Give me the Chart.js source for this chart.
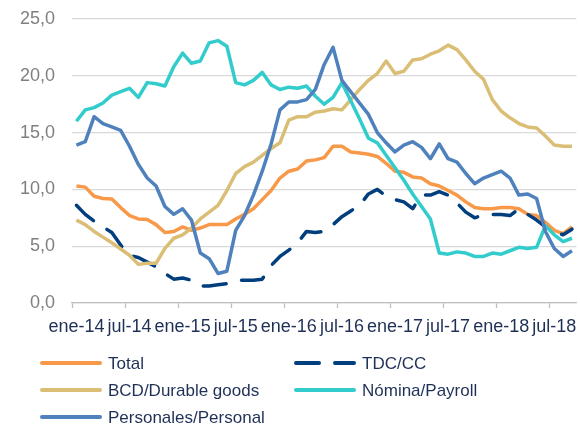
<!DOCTYPE html>
<html>
<head>
<meta charset="utf-8">
<script src="https://cdn.jsdelivr.net/npm/chart.js@4.4.0/dist/chart.umd.min.js"></script>
<style>
  html, body { margin: 0; padding: 0; background: #fff; }
  #wrap { width: 580px; height: 425px; }
</style>
</head>
<body>
<div id="wrap"><canvas id="chart" width="580" height="425"></canvas></div>
<script>
// monthly categories, ene-14 .. sep-18
const months = [
  "ene-14", "feb-14", "mar-14", "abr-14", "may-14", "jun-14", "jul-14", "ago-14", "sep-14", "oct-14", "nov-14", "dic-14",
  "ene-15", "feb-15", "mar-15", "abr-15", "may-15", "jun-15", "jul-15", "ago-15", "sep-15", "oct-15", "nov-15", "dic-15",
  "ene-16", "feb-16", "mar-16", "abr-16", "may-16", "jun-16", "jul-16", "ago-16", "sep-16", "oct-16", "nov-16", "dic-16",
  "ene-17", "feb-17", "mar-17", "abr-17", "may-17", "jun-17", "jul-17", "ago-17", "sep-17", "oct-17", "nov-17", "dic-17",
  "ene-18", "feb-18", "mar-18", "abr-18", "may-18", "jun-18", "jul-18", "ago-18", "sep-18",
];
const labelEvery = 6;

const total = [
  10.3, 10.2, 9.4, 9.2, 9.15, 8.4, 7.7, 7.4, 7.35, 6.9, 6.2, 6.3,
  6.7, 6.4, 6.6, 6.9, 6.9, 6.9, 7.4, 7.8, 8.3, 9.1, 9.9, 11.0,
  11.6, 11.8, 12.5, 12.6, 12.8, 13.8, 13.8, 13.3, 13.2, 13.1, 12.9, 12.3,
  11.6, 11.5, 11.1, 11.0, 10.5, 10.3, 9.9, 9.5, 8.9, 8.4, 8.3, 8.3,
  8.4, 8.4, 8.3, 7.8, 7.7, 7.1, 6.4, 6.1, 6.7,
];
const tdc = [
  8.6, 7.8, 7.2, 6.7, 6.2, 5.1, 4.2, 4.0, 3.6, 3.2, 2.6, 2.1,
  2.2, 2.0, 1.5, 1.5, 1.6, 1.7, 2.0, 2.0, 2.0, 2.1, 3.3, 4.1,
  4.65, 5.3, 6.3, 6.2, 6.3, 6.9, 7.6, 8.1, 8.6, 9.6, 10.0, 9.4,
  9.1, 8.9, 8.3, 9.5, 9.5, 9.8, 9.5, 8.8, 8.0, 7.5, 7.75, 7.8,
  7.8, 7.7, 8.3, 7.8, 7.3, 6.7, 6.3, 6.0, 6.5,
];
const bcd = [
  7.3, 6.9, 6.3, 5.8, 5.3, 4.75, 4.2, 3.4, 3.5, 3.5, 4.8, 5.7,
  6.0, 6.6, 7.4, 8.0, 8.6, 9.9, 11.4, 12.0, 12.4, 13.0, 13.6, 14.1,
  16.1, 16.4, 16.4, 16.8, 16.9, 17.1, 17.0, 17.9, 18.8, 19.6, 20.2, 21.3,
  20.2, 20.4, 21.4, 21.5, 21.9, 22.2, 22.7, 22.3, 21.4, 20.4, 19.7, 17.9,
  16.9, 16.3, 15.8, 15.5, 15.4, 14.7, 13.9, 13.8, 13.8,
];
const nomina = [
  16.0, 17.0, 17.2, 17.6, 18.3, 18.6, 18.9, 18.1, 19.4, 19.3, 19.1, 20.8,
  22.0, 21.1, 21.3, 22.9, 23.1, 22.6, 19.4, 19.2, 19.6, 20.3, 19.2, 18.8,
  19.0, 18.9, 19.1, 18.2, 17.5, 18.1, 19.4, 17.8, 16.2, 14.5, 14.1, 13.0,
  11.9, 10.8, 9.6, 8.5, 7.4, 4.4, 4.3, 4.5, 4.4, 4.1, 4.1, 4.4,
  4.3, 4.6, 4.9, 4.8, 4.9, 6.8, 6.0, 5.4, 5.7,
];
const personales = [
  13.9, 14.2, 16.4, 15.8, 15.5, 15.2, 13.8, 12.2, 11.0, 10.3, 8.5, 7.8,
  8.3, 7.3, 4.4, 3.9, 2.6, 2.8, 6.4, 7.7, 9.5, 11.6, 14.0, 17.0,
  17.7, 17.7, 17.9, 18.8, 21.0, 22.5, 19.6, 18.6, 17.6, 16.6, 15.0, 14.1,
  13.3, 13.9, 14.2, 13.7, 12.7, 14.0, 12.7, 12.4, 11.4, 10.5, 11.0, 11.3,
  11.6, 11.0, 9.5, 9.6, 9.2, 6.3, 4.8, 4.1, 4.6,
];

const FONT = '"Liberation Sans", Arial, sans-serif';
const NAVY_TEXT = "#1F3057";

// two-column legend under the plot, drawn from the datasets
const legendPlugin = {
  id: "gridLegend",
  afterDraw(chart) {
    const ctx = chart.ctx;
    const cols = [40, 294];
    const rows = [363, 390, 417];
    chart.data.datasets.forEach((ds, i) => {
      const x = cols[i % 2];
      const y = rows[Math.floor(i / 2)];
      ctx.save();
      ctx.strokeStyle = ds.borderColor;
      ctx.lineWidth = 4;
      ctx.lineCap = "round";
      ctx.setLineDash(ds.borderDash || []);
      ctx.beginPath();
      ctx.moveTo(x + 2, y);
      ctx.lineTo(x + 60, y);
      ctx.stroke();
      ctx.setLineDash([]);
      ctx.fillStyle = NAVY_TEXT;
      ctx.font = "17px " + FONT;
      ctx.textBaseline = "middle";
      ctx.fillText(ds.label, x + 68, y + 1);
      ctx.restore();
    });
  },
};

const ctx = document.getElementById("chart").getContext("2d");
new Chart(ctx, {
  type: "line",
  data: {
    labels: months,
    datasets: [
      { label: "Total", data: total, borderColor: "#F8994A", order: 5 },
      { label: "TDC/CC", data: tdc, borderColor: "#003E7E", borderDash: [23, 16], borderCapStyle: "round", order: 4 },
      { label: "BCD/Durable goods", data: bcd, borderColor: "#DBBE76", order: 3 },
      { label: "Nómina/Payroll", data: nomina, borderColor: "#33CCCC", order: 2 },
      { label: "Personales/Personal", data: personales, borderColor: "#4F81BD", order: 1 },
    ],
  },
  options: {
    responsive: false,
    animation: false,
    layout: { autoPadding: false, padding: { top: 19, right: 1.7, bottom: 77, left: 0 } },
    elements: {
      point: { radius: 0, hoverRadius: 0 },
      line: { borderWidth: 3.5, tension: 0, borderJoinStyle: "round", fill: false },
    },
    plugins: {
      legend: { display: false },
      tooltip: { enabled: false },
    },
    scales: {
      x: {
        offset: true,
        grid: {
          offset: true,
          drawOnChartArea: false,
          drawTicks: true,
          tickLength: 5,
          tickWidth: 1.3,
          tickColor: (c) => (c.index % labelEvery === 0 ? "#BFBFBF" : "rgba(0,0,0,0)"),
        },
        border: { display: true, color: "#BFBFBF", width: 1.3 },
        ticks: {
          autoSkip: false,
          maxRotation: 0,
          minRotation: 0,
          padding: 8,
          color: NAVY_TEXT,
          font: { family: FONT, size: 18 },
          callback: (v, i) => (i % labelEvery === 0 ? months[i] : ""),
        },
        afterFit: (s) => { s.height = 45; },
      },
      y: {
        min: 0,
        max: 25,
        ticks: {
          stepSize: 5,
          padding: 17,
          color: "#808080",
          // tiny lineHeight keeps the label box from pushing the plot top down
          font: { family: FONT, size: 18, lineHeight: 0.1 },
          callback: (v) => v.toFixed(1).replace(".", ","),
        },
        grid: { color: "#D9D9D9", lineWidth: 1.3, drawTicks: false },
        border: { display: false },
        afterFit: (s) => { s.width = 72; },
      },
    },
  },
  plugins: [legendPlugin],
});
</script>
</body>
</html>
